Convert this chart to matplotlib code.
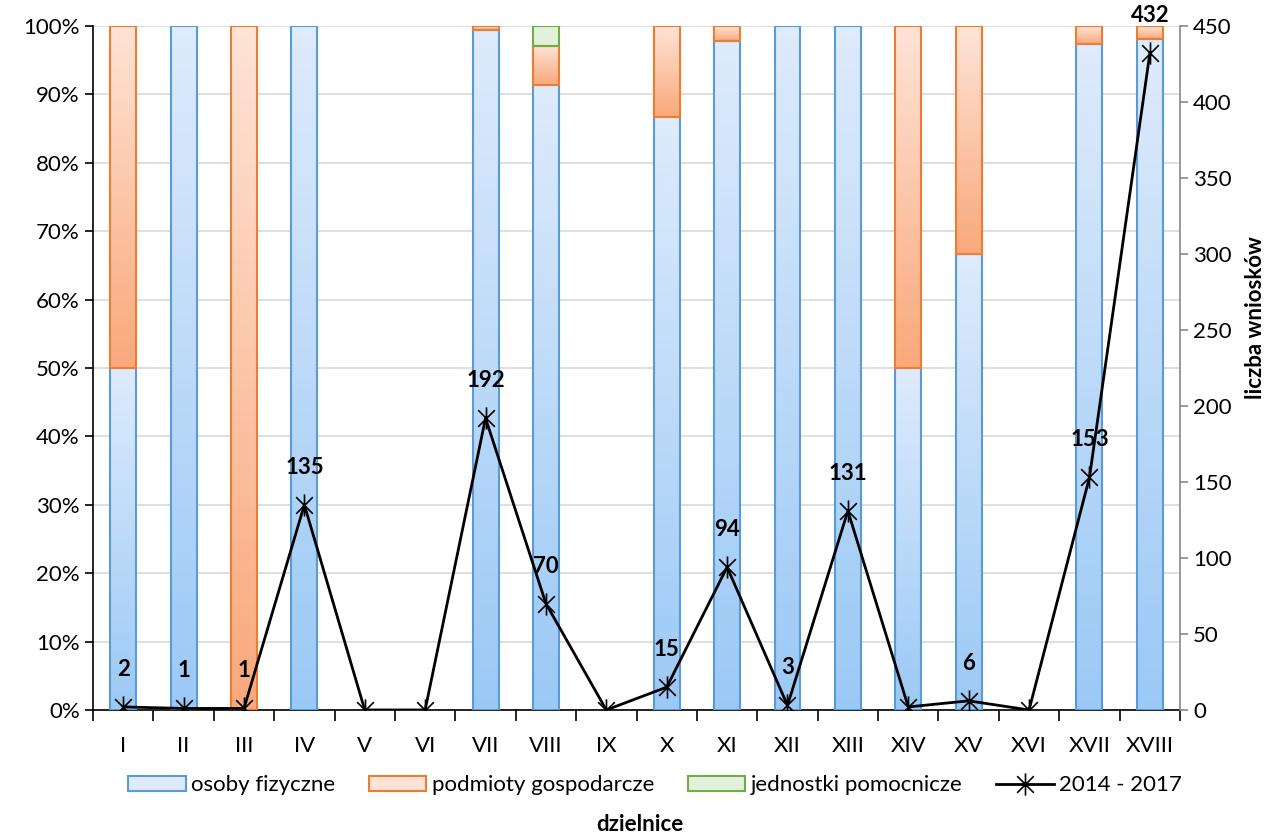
import numpy as np
import matplotlib
matplotlib.use("Agg")
import matplotlib.pyplot as plt
from matplotlib.colors import LinearSegmentedColormap
from matplotlib.path import Path
from matplotlib.lines import Line2D
from matplotlib.patches import Patch

plt.rcParams["font.family"] = ["Lato", "DejaVu Sans"]

# --- dane: liczba wniosków wg dzielnic i typu wnioskodawcy ---
dzielnice = ["I", "II", "III", "IV", "V", "VI", "VII", "VIII", "IX",
             "X", "XI", "XII", "XIII", "XIV", "XV", "XVI", "XVII", "XVIII"]
osoby_fizyczne = [1, 1, 0, 135, 0, 0, 191, 64, 0, 13, 92, 3, 131, 1, 4, 0, 149, 424]
podmioty_gosp = [1, 0, 1, 0, 0, 0, 1, 4, 0, 2, 2, 0, 0, 1, 2, 0, 4, 8]
jednostki_pom = [0, 0, 0, 0, 0, 0, 0, 2, 0, 0, 0, 0, 0, 0, 0, 0, 0, 0]
wnioski_2014_2017 = [2, 1, 1, 135, 0, 0, 192, 70, 0, 15, 94, 3, 131, 2, 6, 0, 153, 432]
# etykiety liczbowe widoczne na wykresie (XIV w oryginale bez etykiety)
etykiety = ["2", "1", "1", "135", "", "", "192", "70", "", "15", "94", "3", "131",
            "", "6", "", "153", "432"]

serie = [
    ("osoby fizyczne", osoby_fizyczne, "#DEEBFC", "#9BC9F5", "#5B9BD5"),
    ("podmioty gospodarcze", podmioty_gosp, "#FEE3D6", "#F9A97C", "#ED7D31"),
    ("jednostki pomocnicze", jednostki_pom, "#E3F0DC", "#E3F0DC", "#70AD47"),
]

x = np.arange(len(dzielnice))
total = np.array(wnioski_2014_2017, dtype=float)
safe_total = np.where(total > 0, total, 1)

fig = plt.figure(figsize=(12.72, 8.39), dpi=100)
ax = fig.add_axes([0.0731, 0.1538, 0.8546, 0.8152])
ax2 = ax.twinx()

width = 0.43
bottom = np.zeros(len(x))
grad = np.linspace(0, 1, 64).reshape(-1, 1)
for name, vals, c_top, c_bot, edge in serie:
    share = np.array(vals) / safe_total * 100
    keep = share > 0
    bars = ax.bar(x[keep], share[keep], width, bottom=bottom[keep], facecolor="none",
                  edgecolor=edge, linewidth=1.5, zorder=3)
    cmap = LinearSegmentedColormap.from_list(name, [c_bot, c_top])
    for b in bars:
        x0, y0 = b.get_x(), b.get_y()
        im = ax.imshow(grad, cmap=cmap, origin="lower", aspect="auto",
                       extent=[x0, x0 + b.get_width(), y0, y0 + b.get_height()],
                       zorder=2)
        im.set_clip_path(b)
    bottom += share

ax.set_xlim(-0.5, len(x) - 0.5)
ax.set_ylim(0, 100)
ax.set_yticks(np.arange(0, 101, 10))
ax.set_yticklabels([f"{v}%" for v in range(0, 101, 10)])
ax.yaxis.grid(True, color="#D9D9D9", linewidth=1.2, zorder=0)
ax.set_axisbelow(True)
ax.set_xticks(x)
ax.set_xticklabels(dzielnice)
ax.set_xticks(np.arange(-0.5, len(x), 1), minor=True)
ax.tick_params(axis="x", which="major", length=0, pad=19, labelsize=16)
ax.tick_params(axis="x", which="minor", length=8, width=1.2, direction="out")
ax.tick_params(axis="y", length=6, width=1.2, labelsize=16)
for side in ["top", "right"]:
    ax.spines[side].set_visible(False)
ax.spines["left"].set_linewidth(1.2)
ax.spines["bottom"].set_linewidth(1.2)

# --- linia: liczba wniosków 2014-2017 ---
star = Path([(0, -1), (0, 1), (-0.75, -0.75), (0.75, 0.75), (-0.75, 0.75), (0.75, -0.75)],
            [Path.MOVETO, Path.LINETO, Path.MOVETO, Path.LINETO, Path.MOVETO, Path.LINETO])
ax2.plot(x, wnioski_2014_2017, color="black", linewidth=2, marker=star,
         markersize=16, markeredgewidth=1.2, zorder=5)
for xi, v, lab in zip(x, wnioski_2014_2017, etykiety):
    if lab:
        ax2.annotate(lab, (xi, v), xytext=(0, 27), textcoords="offset points",
                     ha="center", va="center", fontsize=16, fontweight="bold")
ax2.set_ylim(0, 450)
ax2.set_yticks(np.arange(0, 451, 50))
ax2.tick_params(axis="y", length=6, width=1.2, labelsize=16, colors="black")
ax2.tick_params(axis="y", color="#868686")
for side in ["top", "left", "bottom"]:
    ax2.spines[side].set_visible(False)
ax2.spines["right"].set_color("#868686")
ax2.spines["right"].set_linewidth(1.2)

fig.text(0.987, 0.622, "liczba wniosków", rotation=90, ha="center", va="center",
         fontsize=16, fontweight="bold")
fig.text(0.503, 0.017, "dzielnice", ha="center", va="center",
         fontsize=16, fontweight="bold")

handles = [Patch(facecolor=s[2], edgecolor=s[4], linewidth=1.5) for s in serie]
handles.append(Line2D([], [], color="black", linewidth=2, marker=star,
                      markersize=16, markeredgewidth=1.2))
labels = [s[0] for s in serie] + ["2014 - 2017"]
fig.legend(handles, labels, loc="center", bbox_to_anchor=(0.515, 0.064), ncol=4,
           frameon=False, fontsize=16, handlelength=2.6, handletextpad=0.25,
           columnspacing=1.5)

fig.savefig("out.png", dpi=100)
